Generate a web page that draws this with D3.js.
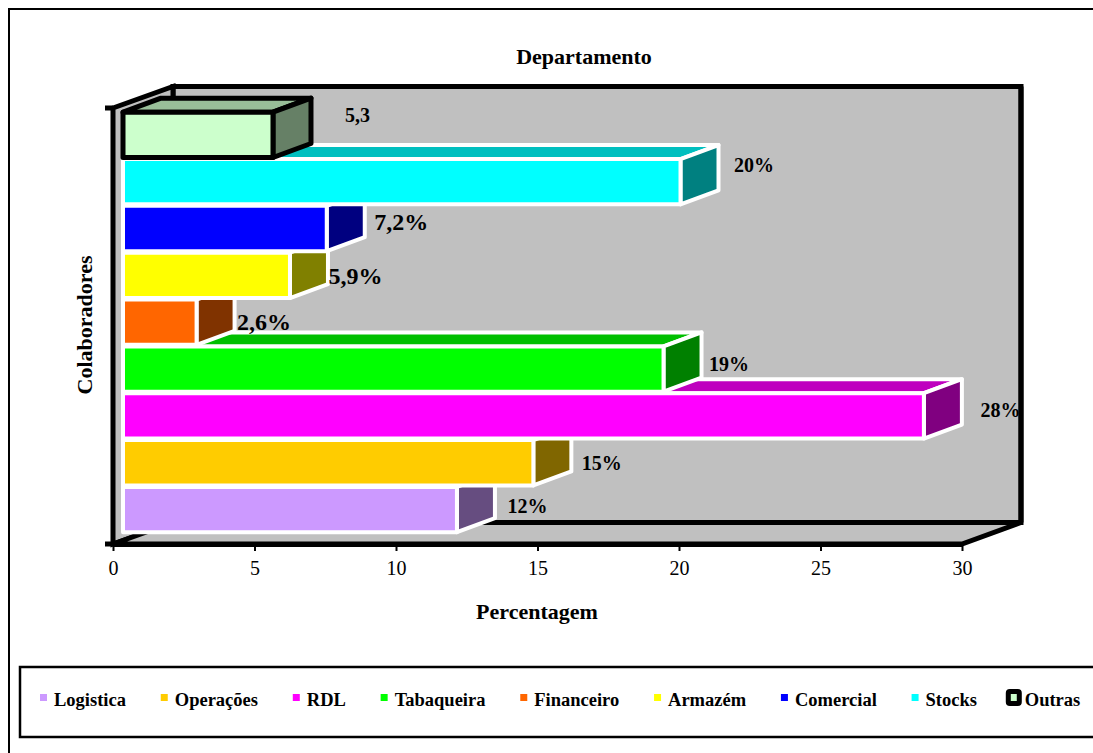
<!DOCTYPE html>
<html>
<head>
<meta charset="utf-8">
<script src="https://cdn.jsdelivr.net/npm/d3@7"></script>
<style>
  html, body { margin: 0; padding: 0; background: #fff; overflow: hidden; }
  text { font-family: "Liberation Serif", serif; fill: #000; }
</style>
</head>
<body>
<div id="svg-area"></div>
<script>
// Chart values
var departments = ['Logistica', 'Operações', 'RDL', 'Tabaqueira', 'Financeiro', 'Armazém', 'Comercial', 'Stocks', 'Outras'];
var percentages = [11.8, 14.5, 28.3, 19.1, 2.6, 5.9, 7.2, 19.7, 5.3];
var valueLabels = ['12%', '15%', '28%', '19%', '2,6%', '5,9%', '7,2%', '20%', '5,3'];
var xTicks = [0, 5, 10, 15, 20, 25, 30];

// Styles, one per department
var barColors = ['#CC99FF', '#FFCC00', '#FF00FF', '#00FF00', '#FF6600', '#FFFF00', '#0000FF', '#00FFFF', '#CCFFCC'];
var labelSizes = [20, 20, 20, 20, 24, 24, 24, 20, 20];
var labelShiftX = [33, 31, 39, 28, 30, 28, 37, 36, 47];
var labelShiftY = [-4, 0, -6, -5, -1, 0, -7, -17, -20];

var width = 1093, height = 753;

var $svg = d3.select('#svg-area').append('svg')
    .attr('width', width)
    .attr('height', height)
    .style('display', 'block');

// page frame, only left and top show inside the window
$svg.append('path')
    .attr('d', 'M9,753V9H1093')
    .attr('fill', 'none')
    .attr('stroke', '#000')
    .attr('stroke-width', 2);

var x = d3.scaleLinear().domain([0, 30]).range([113, 962]);
var y = d3.scaleBand().domain(departments).range([533, 111.4]);

var plotTop = 108, plotBottom = 544;
var wallDx = 60, wallDy = -21.5;   // box depth
var barDx = 38, barDy = -14;       // bar depth
var barStart = 10;                 // bars stand off the side wall
var barHeight = 45.3;

var wallStroke = 5;

// back wall, side wall, floor
function poly(pts) { return 'M' + pts.map(function(p) { return p.join(','); }).join('L') + 'Z'; }

var xL = x.range()[0], xR = x.range()[1];
var walls = [
    [[xL + wallDx, plotTop + wallDy], [xR + wallDx - 1, plotTop + wallDy], [xR + wallDx - 1, plotBottom + wallDy], [xL + wallDx, plotBottom + wallDy]],
    [[xL, plotTop], [xL + wallDx, plotTop + wallDy], [xL + wallDx, plotBottom + wallDy], [xL, plotBottom]],
    [[xL, plotBottom], [xL + wallDx, plotBottom + wallDy], [xR + wallDx - 1, plotBottom + wallDy], [xR, plotBottom]]
];
$svg.selectAll('.wall').data(walls).enter().append('path')
    .attr('class', 'wall')
    .attr('d', poly)
    .attr('fill', '#C0C0C0')
    .attr('stroke', '#000')
    .attr('stroke-width', wallStroke);

// x axis
var xAxis = d3.axisBottom(x).tickValues(xTicks).tickSize(7).tickSizeOuter(0).tickFormat(d3.format('d'));
var $axis = $svg.append('g').attr('transform', 'translate(0,' + plotBottom + ')').call(xAxis);
$axis.select('.domain').attr('stroke-width', wallStroke);
$axis.selectAll('.tick line').attr('stroke', '#000').attr('stroke-width', 2);
$axis.selectAll('.tick text').attr('y', 17).attr('dy', '0.71em')
    .style('font-family', '"Liberation Serif", serif').style('font-size', '20px');

// y axis stubs at both ends
$svg.selectAll('.ystub').data([plotTop, plotBottom]).enter().append('line')
    .attr('class', 'ystub')
    .attr('x1', xL - 8).attr('x2', xL)
    .attr('y1', function(d) { return d; }).attr('y2', function(d) { return d; })
    .attr('stroke', '#000').attr('stroke-width', wallStroke);

// bars, bottom one first so the ones above cover its top face
var bars = departments.map(function(d, i) {
    return { name: d, value: percentages[i], color: barColors[i], label: valueLabels[i], i: i };
});

var $bars = $svg.selectAll('.bar').data(bars).enter().append('g').attr('class', 'bar');

function edge(d) { return d.name === 'Outras' ? '#000' : '#fff'; }
function edgeWidth(d) { return d.name === 'Outras' ? 5 : 4; }
function x0() { return xL + barStart; }
function x1(d) { return x(d.value) + barStart; }
function yTop(d) { return y(d.name) + (y.step() - barHeight) / 2; }
function shade(d, k) {
    var c = d3.rgb(d.color);
    return d3.rgb(c.r * k, c.g * k, c.b * k);
}

$bars.append('path')   // top face
    .attr('d', function(d) {
        return poly([[x0(), yTop(d)], [x0() + barDx, yTop(d) + barDy], [x1(d) + barDx, yTop(d) + barDy], [x1(d), yTop(d)]]);
    })
    .attr('fill', function(d) { return shade(d, 0.75); })
    .attr('stroke', edge).attr('stroke-width', edgeWidth).attr('stroke-linejoin', 'round');

$bars.append('path')   // side face
    .attr('d', function(d) {
        return poly([[x1(d), yTop(d)], [x1(d) + barDx, yTop(d) + barDy], [x1(d) + barDx, yTop(d) + barDy + barHeight], [x1(d), yTop(d) + barHeight]]);
    })
    .attr('fill', function(d) { return shade(d, 0.5); })
    .attr('stroke', edge).attr('stroke-width', edgeWidth).attr('stroke-linejoin', 'round');

$bars.append('rect')   // front face
    .attr('x', x0())
    .attr('y', yTop)
    .attr('width', function(d) { return x1(d) - x0(); })
    .attr('height', barHeight)
    .attr('fill', function(d) { return d.color; })
    .attr('stroke', edge).attr('stroke-width', edgeWidth).attr('stroke-linejoin', 'round');

// value labels
$svg.selectAll('.value').data(bars).enter().append('text')
    .attr('class', 'value')
    .attr('x', function(d) { return x1(d) + barDx + labelShiftX[d.i] - 0.5; })
    .attr('y', function(d) { return y(d.name) + y.step() / 2 + labelShiftY[d.i]; })
    .attr('dy', '0.35em')
    .attr('text-anchor', 'middle')
    .attr('font-weight', 'bold')
    .attr('font-size', function(d) { return labelSizes[d.i]; })
    .text(function(d) { return d.label; });

// right wall edge runs over the 28% label
$svg.append('line')
    .attr('x1', xR + wallDx - 1).attr('x2', xR + wallDx - 1)
    .attr('y1', plotTop + wallDy).attr('y2', plotBottom + wallDy)
    .attr('stroke', '#000').attr('stroke-width', wallStroke);

// titles
$svg.append('text').attr('x', 584).attr('y', 64).attr('text-anchor', 'middle')
    .attr('font-weight', 'bold').attr('font-size', 22).text('Departamento');
$svg.append('text').attr('x', 537).attr('y', 619).attr('text-anchor', 'middle')
    .attr('font-weight', 'bold').attr('font-size', 22).text('Percentagem');
$svg.append('text').attr('transform', 'translate(92,325) rotate(-90)').attr('text-anchor', 'middle')
    .attr('font-weight', 'bold').attr('font-size', 22).text('Colaboradores');

// legend
$svg.append('rect')
    .attr('x', 20).attr('y', 667)
    .attr('width', 1100).attr('height', 70)
    .attr('fill', '#fff').attr('stroke', '#000').attr('stroke-width', 2.5);

var legendX = 40;
bars.forEach(function(d) {
    var outras = d.name === 'Outras';
    var $item = $svg.append('g').attr('class', 'legend-item');
    if (outras) {
        legendX -= 6;
        $item.append('rect')
            .attr('x', legendX + 2.5).attr('y', 691.5).attr('width', 11).attr('height', 12).attr('rx', 1.5)
            .attr('fill', d.color).attr('stroke', '#000').attr('stroke-width', 5);
    } else {
        $item.append('rect')
            .attr('x', legendX).attr('y', 694).attr('width', 7).attr('height', 7)
            .attr('fill', d.color);
    }
    var $t = $item.append('text')
        .attr('x', legendX + (outras ? 19 : 14)).attr('y', 706)
        .attr('font-weight', 'bold').attr('font-size', 18.5)
        .text(d.name);
    legendX += (outras ? 19 : 14) + $t.node().getComputedTextLength() + 34.8;
});
</script>
</body>
</html>
